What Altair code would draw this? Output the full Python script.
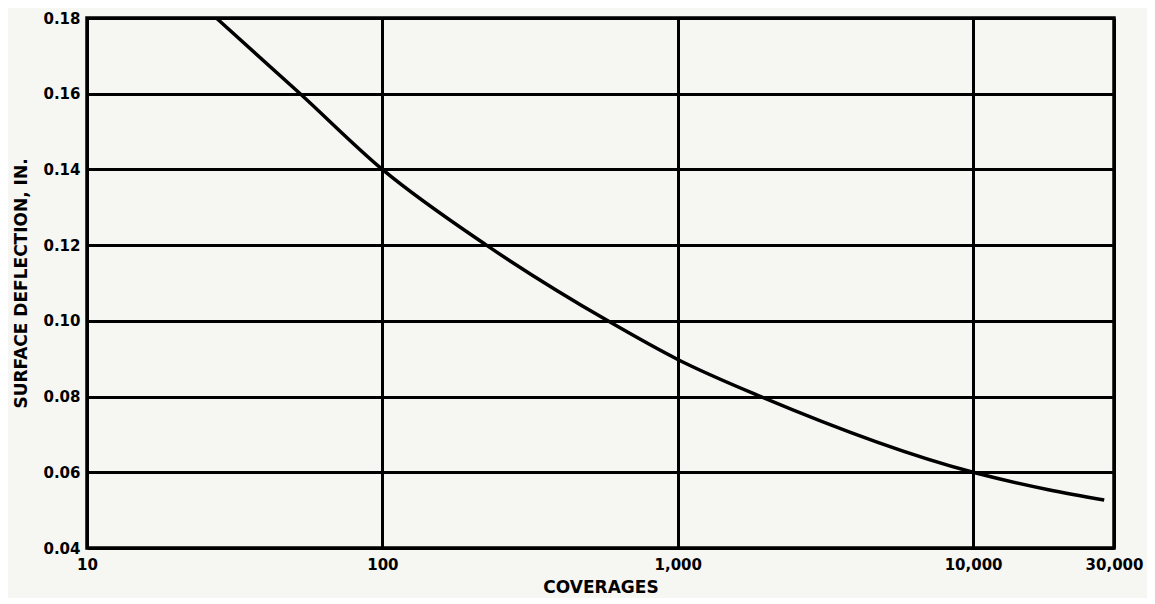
import altair as alt
import pandas as pd

coverages = [27.4, 52.7, 100, 225, 580, 1000, 1910, 10000, 18000, 27800]
deflection = [0.180, 0.160, 0.140, 0.120, 0.100, 0.0898, 0.080, 0.060, 0.0554, 0.0527]

x_ticks = [10, 100, 1000, 10000, 30000]
y_ticks = [0.04, 0.06, 0.08, 0.10, 0.12, 0.14, 0.16, 0.18]

df = pd.DataFrame({"c": coverages, "d": deflection})

FONT = "DejaVu Sans"

chart = alt.Chart(df).mark_line(color="black", strokeWidth=3.5, interpolate="monotone").encode(
    x=alt.X("c:Q",
            scale=alt.Scale(type="log", domain=[10, 30000], nice=False),
            axis=alt.Axis(values=x_ticks, format=",d", title="COVERAGES",
                          grid=True, gridColor="black", gridWidth=3, gridOpacity=1,
                          ticks=False, domain=False, labelPadding=9,
                          labelFont=FONT, labelFontWeight="bold", labelFontSize=15, labelColor="black",
                          titleFont=FONT, titleFontWeight="bold", titleFontSize=17, titleColor="black",
                          titlePadding=7, labelFlush=False)),
    y=alt.Y("d:Q",
            scale=alt.Scale(domain=[0.04, 0.18], nice=False, zero=False),
            axis=alt.Axis(values=y_ticks, format=".2f", title="SURFACE DEFLECTION, IN.",
                          grid=True, gridColor="black", gridWidth=3, gridOpacity=1,
                          ticks=False, domain=False, labelPadding=7,
                          labelFont=FONT, labelFontWeight="bold", labelFontSize=15, labelColor="black",
                          titleFont=FONT, titleFontWeight="bold", titleFontSize=17, titleColor="black",
                          titlePadding=12)),
).properties(
    width=1027, height=530,
    autosize=alt.AutoSizeParams(type="none"),
    padding={"left": 79, "top": 10, "right": 33, "bottom": 50},
    background="#f6f6f3",
).configure_view(stroke="black", strokeWidth=3.5)

chart.save("out.html", embed_options={"renderer": "svg", "actions": False})
